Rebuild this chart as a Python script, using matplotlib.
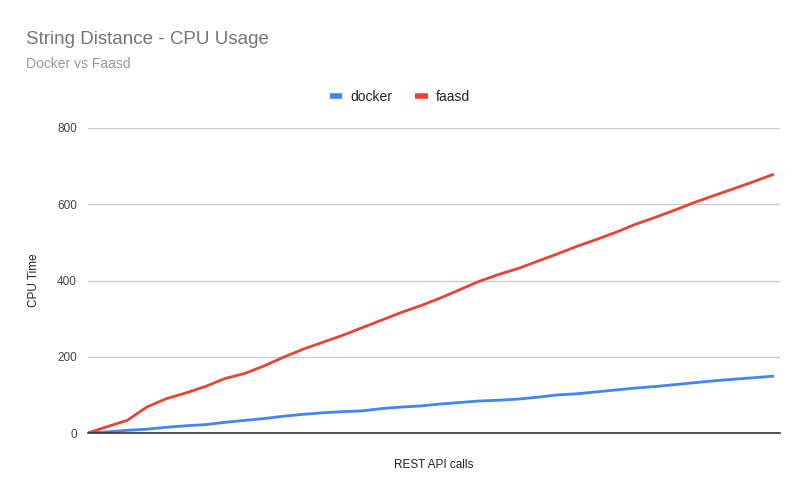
import matplotlib
matplotlib.use("Agg")
import matplotlib.pyplot as plt
import numpy as np

plt.rcParams['font.family'] = ['Liberation Sans', 'DejaVu Sans']

calls = list(range(36))
docker = [0, 3, 7, 10, 15, 19, 22, 28, 33, 38, 44, 49, 53, 56, 58, 64, 68, 71,
          76, 80, 84, 86, 89, 94, 100, 103, 108, 113, 118, 122, 127, 132, 137,
          141, 145, 149]
faasd = [0, 17, 33, 68, 90, 105, 122, 143, 156, 176, 199, 220, 238, 256, 276,
         296, 316, 334, 354, 376, 398, 416, 432, 451, 470, 490, 508, 527, 548,
         566, 585, 605, 623, 641, 659, 678]
yticks = [0, 200, 400, 600, 800]

fig = plt.figure(figsize=(8.05, 4.97), dpi=100)
ax = fig.add_axes([88/805, 64/497, 692/805, 305/497])

ax.plot(calls, docker, color='#4285F4', lw=2, label='docker',
        solid_capstyle='round', solid_joinstyle='round')
ax.plot(calls, faasd, color='#EA4335', lw=2, label='faasd',
        solid_capstyle='round', solid_joinstyle='round')

ax.set_xlim(0, 35 * 692 / 685)
ax.set_ylim(0, 800)
ax.set_yticks(yticks)
ax.set_yticklabels([str(v) for v in yticks], fontsize=8.5, color='#444444')
ax.set_xticks([])
ax.tick_params(axis='y', length=0, pad=8)
ax.grid(axis='y', color='#cccccc', lw=1)
ax.set_axisbelow(True)
for s in ['top', 'right', 'left']:
    ax.spines[s].set_visible(False)
ax.spines['bottom'].set_color('#333333')
ax.spines['bottom'].set_linewidth(1.2)

ax.set_ylabel('CPU Time', fontsize=8.5, color='#222222', labelpad=12)
ax.set_xlabel('REST API calls', fontsize=8.5, color='#222222', labelpad=19)

fig.text(26/805, 1 - 39/497, 'String Distance - CPU Usage', fontsize=13.5,
         color='#757575', va='center', ha='left')
fig.text(26/805, 1 - 64/497, 'Docker vs Faasd', fontsize=10,
         color='#999999', va='center', ha='left')

leg = fig.legend(loc='center', bbox_to_anchor=(400/805, 1 - 97/497), ncol=2,
                 frameon=False, fontsize=10, handlelength=0.9, handletextpad=0.6,
                 columnspacing=1.6)
for t in leg.get_texts():
    t.set_color('#222222')
for h in leg.get_lines():
    h.set_linewidth(4)
    h.set_solid_capstyle('butt')

fig.savefig('out.png', dpi=100, facecolor='white')
